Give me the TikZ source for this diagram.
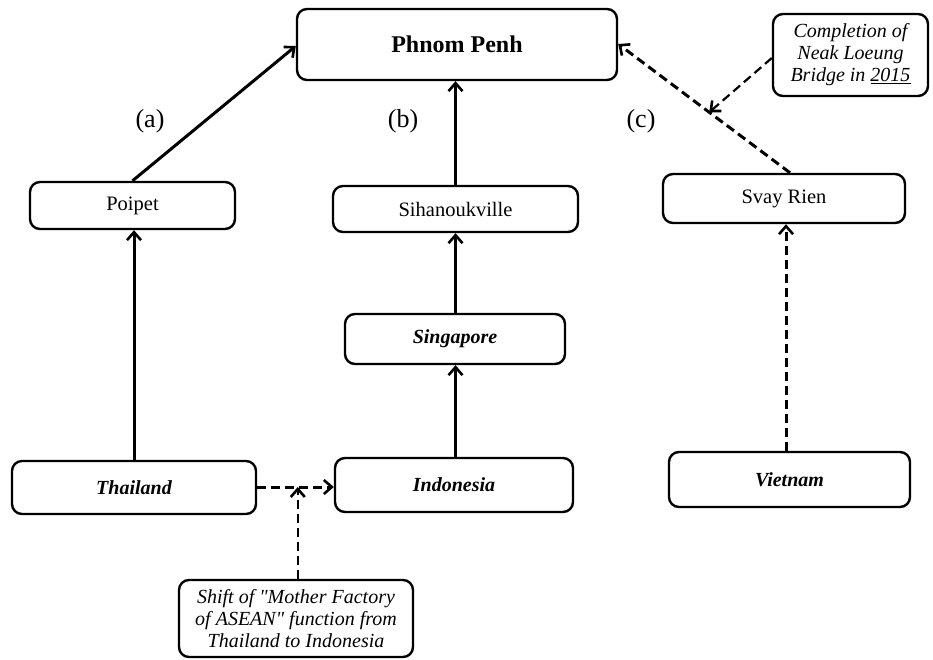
\documentclass[tikz,border=0pt]{standalone}
\usepackage{fontspec}
\setmainfont{Liberation Serif}
\usetikzlibrary{arrows.meta}
\begin{document}
\begin{tikzpicture}[x=1pt,y=-1pt,
  box/.style={draw,line width=2.4pt,rounded corners=10pt,inner sep=0pt,align=center,
    font=\fontsize{20.5}{24}\selectfont},
  bi/.style={font=\fontsize{20}{24}\selectfont\bfseries\itshape},
  note/.style={font=\fontsize{20}{22}\selectfont\itshape},
  link/.style={line width=3pt,-{Straight Barb[length=8pt,width=14pt,line width=2.6pt]}},
  dlink/.style={link,dash pattern=on 9pt off 5pt},
  lbl/.style={font=\fontsize{26}{28}\selectfont}]
\useasboundingbox (0,0) rectangle (933,659);

% places
\node[box,minimum width=320pt,minimum height=71pt,font=\fontsize{24}{28}\selectfont\bfseries] (pp) at (457,44.5) {Phnom Penh};
\node[box,minimum width=205pt,minimum height=47pt] (poi) at (132.5,205.5) {Poipet};
\node[box,minimum width=245pt,minimum height=46pt] (sih) at (455.5,209) {Sihanoukville};
\node[box,minimum width=242pt,minimum height=49pt] (svr) at (784,198.5) {Svay Rien};
\node[box,bi,minimum width=220pt,minimum height=50pt] (sgp) at (455,339) {Singapore};
\node[box,bi,minimum width=244pt,minimum height=53pt] (tha) at (134,487.5) {Thailand};
\node[box,bi,minimum width=238pt,minimum height=54pt] (ind) at (454,485) {Indonesia};
\node[box,bi,minimum width=241pt,minimum height=55pt] (vie) at (789.5,479.5) {Vietnam};

% notes
\node[box,note,minimum width=155pt,minimum height=82pt] (bridge) at (850.5,55) {Completion of\\Neak Loeung\\Bridge in \underline{2015}};
\node[box,note,minimum width=234pt,minimum height=77pt] (shift) at (296,618.5) {Shift of \textquotedbl Mother Factory\\of ASEAN\textquotedbl{} function from\\Thailand to Indonesia};

% route labels
\node[lbl] (la) at (150,121) {(a)};
\node[lbl] (lb) at (403,121) {(b)};
\node[lbl] (lc) at (641,121) {(c)};

% routes
\draw[link] (poi.north) -- (pp.west |- 0,46) coordinate (ppw);
\draw[link] (sih.north) -- (pp.south -| sih.north);
\draw[link] (sgp.north -| sih.north) -- (sih.south);
\draw[link] (ind.north -| sih.north) -- (sgp.south -| sih.north);
\draw[link] (tha.north) -- (poi.south -| tha.north);
\draw[dlink] (svr.north -| 790,0) -- coordinate[pos=0.47] (cmid) (pp.east |- 0,44);
\draw[dlink] (vie.north -| 786,0) -- (svr.south -| 786,0);
\draw[dlink] (tha.east |- 0,487) -- coordinate[pos=0.53] (tmid) (ind.west |- 0,487);

% notes pointing at routes
\draw[dlink,line width=2.2pt] (bridge.west |- 0,58) -- (cmid);
\draw[dlink,line width=2.2pt] (shift.north -| tmid) -- (tmid);
\end{tikzpicture}
\end{document}
